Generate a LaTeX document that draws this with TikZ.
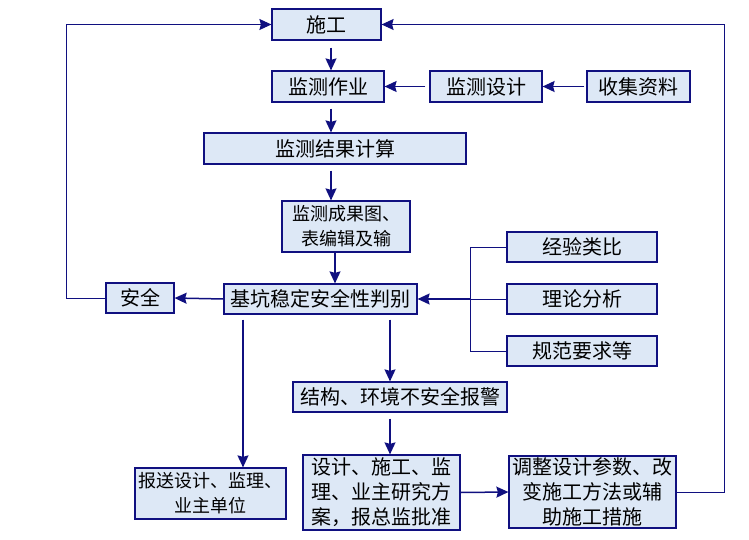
\documentclass[tikz,border=0pt]{standalone}
\usepackage{fontspec}
\newfontfamily\cjk{Noto Sans CJK SC}
\usetikzlibrary{arrows.meta,positioning}
\definecolor{boxline}{RGB}{16,16,128}
\definecolor{boxfill}{RGB}{221,232,246}

\begin{document}
\begin{tikzpicture}[x=1pt,y=-1pt,
    >={Stealth[length=12pt,width=11pt,inset=1.5pt]},
    flowbox/.style={draw=boxline,line width=1.2pt,fill=boxfill,inner sep=0pt,
      font=\cjk\fontsize{20}{25}\selectfont,align=center},
    smalltext/.style={font=\cjk\fontsize{18}{25}\selectfont},
    flowarrow/.style={->,draw=boxline,line width=1.5pt},
    flowline/.style={draw=boxline,line width=1pt}]
  \useasboundingbox (0,0) rectangle (749,540);
  % main column
  \node[flowbox,minimum width=109pt,minimum height=31pt] (sg) at (326.5,24.5) {施工};
  \node[flowbox,minimum width=112pt,minimum height=31pt] (jczy) at (328,86.5) {监测作业};
  \node[flowbox,minimum width=112pt,minimum height=31pt] (jcsj) at (486,86.5) {监测设计};
  \node[flowbox,minimum width=103pt,minimum height=31pt] (sjzl) at (638.5,86.5) {收集资料};
  \node[flowbox,minimum width=262pt,minimum height=31pt] (jgjs) at (335,148.5) {监测结果计算};
  \node[flowbox,smalltext,minimum width=128pt,minimum height=51pt] (cgt) at (346,226.5) {监测成果图、\\表编辑及输};
  \node[flowbox,minimum width=193pt,minimum height=30pt] (pb) at (320.5,299) {基坑稳定安全性判别};
  \node[flowbox,minimum width=68pt,minimum height=30pt] (aq) at (140,298) {安全};
  % judging basis
  \node[flowbox,minimum width=150pt,minimum height=30pt] (jylb) at (582,247) {经验类比};
  \node[flowbox,minimum width=150pt,minimum height=30pt] (llfx) at (582,299) {理论分析};
  \node[flowbox,minimum width=150pt,minimum height=30pt] (gfyq) at (582,351) {规范要求等};
  % lower part
  \node[flowbox,minimum width=214pt,minimum height=30pt] (bj) at (400,397) {结构、环境不安全报警};
  \node[flowbox,smalltext,minimum width=151pt,minimum height=51pt] (bs) at (210.5,493.5) {报送设计、监理、\\业主单位};
  \node[flowbox,minimum width=157pt,minimum height=75pt] (fa) at (381.5,492.5) {设计、施工、监\\理、业主研究方\\案，报总监批准};
  \node[flowbox,minimum width=167pt,minimum height=72pt] (tz) at (592.5,492) {调整设计参数、改\\变施工方法或辅\\助施工措施};
  % columns and turning points
  \coordinate (c1) at (331,0);
  \coordinate (c2) at (335,0);
  \coordinate (c3) at (243,0);
  \coordinate (c4) at (390,0);
  \coordinate (lp) at (66,0);
  \coordinate (rp) at (724,0);
  \coordinate (br) at (470,0);
  \draw[flowarrow,shorten <=7pt] (sg.south -| c1) -- (jczy.north -| c1);
  \draw[flowarrow,shorten <=6pt] (jczy.south -| c1) -- (jgjs.north -| c1);
  \draw[flowarrow,shorten <=6pt] (jgjs.south -| c1) -- (cgt.north -| c1);
  \draw[flowarrow] (cgt.south -| c2) -- (pb.north -| c2);
  \draw[flowarrow,shorten <=4pt] (jcsj.west) -- (jczy.east);
  \draw[flowarrow,shorten <=2pt] (sjzl.west) -- (jcsj.east);
  \draw[flowarrow] (pb.west) -- (aq.east);
  \draw[flowline,->] (aq.west) -| (lp |- sg.west) -- (sg.west);
  \draw[flowline,->] (tz.east) -| (rp |- sg.east) -- (sg.east);
  % basis bracket
  \draw[flowline] (jylb.west) -| (br |- gfyq.west) -- (gfyq.west);
  \draw[flowline] (llfx.west) -- (br |- llfx.west);
  \draw[flowarrow] (br |- llfx.west) -- (pb.east);
  % judgement branches
  \draw[flowarrow,shorten <=5pt] (pb.south -| c3) -- (bs.north -| c3);
  \draw[flowarrow,shorten <=5pt] (pb.south -| c4) -- (bj.north -| c4);
  \draw[flowarrow,shorten <=6pt] (bj.south -| c4) -- (fa.north -| c4);
  \draw[flowarrow] (fa.east) -- (tz.west);
\end{tikzpicture}
\end{document}
